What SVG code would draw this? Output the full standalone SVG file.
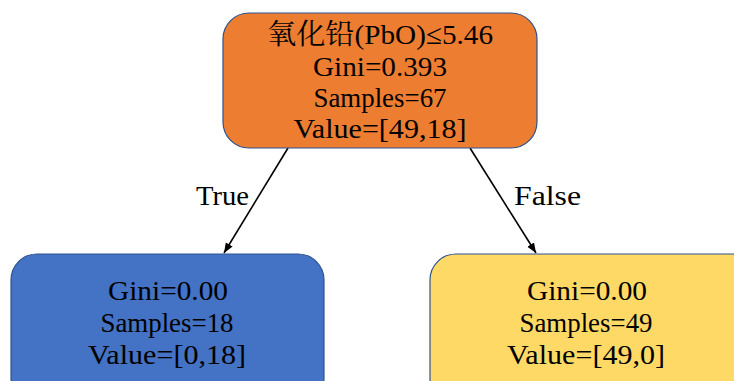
<svg xmlns="http://www.w3.org/2000/svg" width="734" height="381" viewBox="0 0 734 381">
<defs>
<marker id="ah" viewBox="0 0 10 10" refX="10" refY="5" markerWidth="10" markerHeight="10" markerUnits="userSpaceOnUse" orient="auto">
<path d="M0,1 L10,5 L0,9 Z" fill="#000"/>
</marker>
</defs>
<style>
.box{stroke:#2F528F;stroke-width:1.2}
.t{font-family:"Liberation Serif","Noto Serif CJK SC","Noto Sans CJK SC",serif;font-size:28px;fill:#000;text-anchor:middle}
.lbl{font-family:"Liberation Serif","Noto Sans CJK SC",serif;font-size:27px;fill:#000}
.edge{stroke:#000;stroke-width:1.6;fill:none}
</style>
<g id="connectors">
<line class="edge" x1="288" y1="148" x2="224" y2="253" marker-end="url(#ah)"/>
<line class="edge" x1="470" y1="148" x2="536" y2="253" marker-end="url(#ah)"/>
<text class="lbl" x="196" y="205" textLength="53" lengthAdjust="spacingAndGlyphs">True</text>
<text class="lbl" x="514" y="205" textLength="67" lengthAdjust="spacingAndGlyphs">False</text>
</g>
<g id="root">
<rect class="box" x="223" y="13" width="314" height="135" rx="26" fill="#ED7D31"/>
<text class="t" x="380" y="44" textLength="226" lengthAdjust="spacingAndGlyphs">氧化铅(PbO)≤5.46</text>
<text class="t" x="380" y="76" textLength="134" lengthAdjust="spacingAndGlyphs">Gini=0.393</text>
<text class="t" x="380" y="107" textLength="133" lengthAdjust="spacingAndGlyphs">Samples=67</text>
<text class="t" x="380" y="138" textLength="173" lengthAdjust="spacingAndGlyphs">Value=[49,18]</text>
</g>
<g id="left">
<rect class="box" x="11" y="254" width="313" height="150" rx="26" fill="#4472C4"/>
<text class="t" x="168" y="300" textLength="120" lengthAdjust="spacingAndGlyphs">Gini=0.00</text>
<text class="t" x="167" y="332" textLength="133" lengthAdjust="spacingAndGlyphs">Samples=18</text>
<text class="t" x="167" y="364" textLength="158" lengthAdjust="spacingAndGlyphs">Value=[0,18]</text>
</g>
<g id="right">
<rect class="box" x="430" y="254" width="330" height="150" rx="26" fill="#FFD966"/>
<text class="t" x="587" y="300" textLength="120" lengthAdjust="spacingAndGlyphs">Gini=0.00</text>
<text class="t" x="586" y="332" textLength="133" lengthAdjust="spacingAndGlyphs">Samples=49</text>
<text class="t" x="586" y="364" textLength="158" lengthAdjust="spacingAndGlyphs">Value=[49,0]</text>
</g>
</svg>
